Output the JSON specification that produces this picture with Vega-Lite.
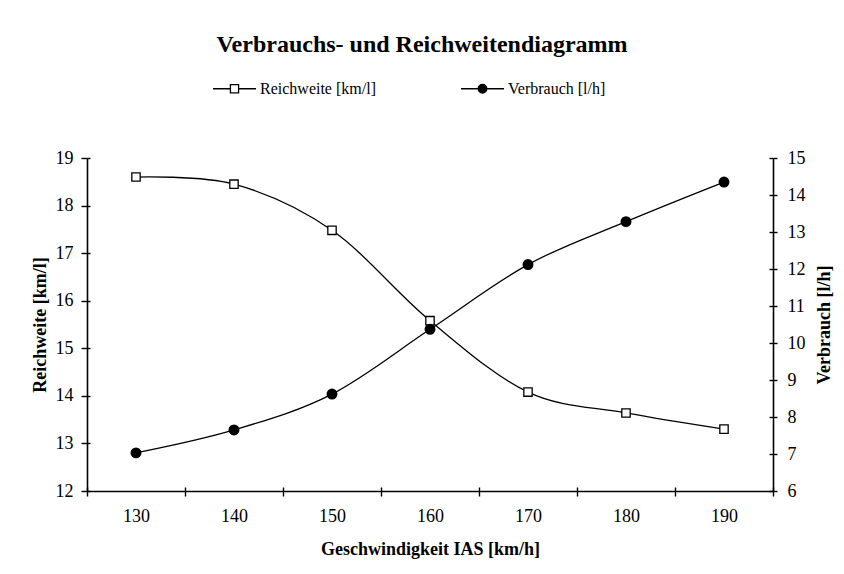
{
  "$schema": "https://vega.github.io/schema/vega-lite/v6.json",
  "width": 686,
  "height": 333,
  "padding": {"left": 31, "top": 33, "right": 2, "bottom": 10},
  "background": "white",
  "title": {
    "text": "Verbrauchs- und Reichweitendiagramm",
    "font": "Liberation Serif",
    "fontSize": 24,
    "fontWeight": "bold",
    "color": "black",
    "anchor": "middle",
    "frame": "group",
    "offset": 9,
    "dx": -8
  },
  "config": {
    "view": {"stroke": null},
    "axis": {
      "labelFont": "Liberation Serif",
      "labelFontSize": 18,
      "labelColor": "black",
      "titleFont": "Liberation Serif",
      "titleFontSize": 18,
      "titleFontWeight": "bold",
      "titleColor": "black",
      "domainColor": "black",
      "domainWidth": 1.6,
      "tickColor": "black",
      "tickWidth": 1.4,
      "grid": false
    }
  },
  "data": {
    "values": [
      {"speed": 130, "serie": "Reichweite [km/l]", "wert": 18.6},
      {"speed": 140, "serie": "Reichweite [km/l]", "wert": 18.45},
      {"speed": 150, "serie": "Reichweite [km/l]", "wert": 17.48},
      {"speed": 160, "serie": "Reichweite [km/l]", "wert": 15.58},
      {"speed": 170, "serie": "Reichweite [km/l]", "wert": 14.08},
      {"speed": 180, "serie": "Reichweite [km/l]", "wert": 13.64},
      {"speed": 190, "serie": "Reichweite [km/l]", "wert": 13.3},
      {"speed": 130, "serie": "Verbrauch [l/h]", "wert": 7.03},
      {"speed": 140, "serie": "Verbrauch [l/h]", "wert": 7.65},
      {"speed": 150, "serie": "Verbrauch [l/h]", "wert": 8.62},
      {"speed": 160, "serie": "Verbrauch [l/h]", "wert": 10.37},
      {"speed": 170, "serie": "Verbrauch [l/h]", "wert": 12.12},
      {"speed": 180, "serie": "Verbrauch [l/h]", "wert": 13.28},
      {"speed": 190, "serie": "Verbrauch [l/h]", "wert": 14.35}
    ]
  },
  "layer": [
    {
      "transform": [{"filter": "datum.serie === 'Reichweite [km/l]'"}],
      "mark": {"type": "line", "interpolate": "cardinal", "color": "black", "strokeWidth": 1.3},
      "encoding": {
        "x": {
          "field": "speed", "type": "quantitative",
          "scale": {"domain": [125, 195], "nice": false, "zero": false},
          "axis": {"orient": "bottom", "values": [130, 140, 150, 160, 170, 180, 190], "ticks": false, "tickSize": 0, "labelPadding": 16, "title": "Geschwindigkeit IAS [km/h]", "titlePadding": 15}
        },
        "y": {
          "field": "wert", "type": "quantitative",
          "scale": {"domain": [12, 19], "nice": false, "zero": false},
          "axis": {"orient": "left", "values": [12, 13, 14, 15, 16, 17, 18, 19], "tickSize": 6, "labelPadding": 8, "title": "Reichweite [km/l]", "titlePadding": 6}
        }
      }
    },
    {
      "transform": [{"filter": "datum.serie === 'Reichweite [km/l]'"}],
      "mark": {"type": "point", "shape": "square", "size": 70, "filled": true, "fill": "white", "stroke": "black", "strokeWidth": 1.3, "opacity": 1},
      "encoding": {
        "x": {
          "field": "speed", "type": "quantitative",
          "scale": {"domain": [125, 195], "nice": false, "zero": false},
          "axis": {"orient": "bottom", "values": [125, 135, 145, 155, 165, 175, 185, 195], "tickSize": 5, "labels": false, "domain": false, "title": null}
        },
        "y": {
          "field": "wert", "type": "quantitative",
          "scale": {"domain": [12, 19], "nice": false, "zero": false},
          "axis": {"orient": "left", "values": [12, 13, 14, 15, 16, 17, 18, 19], "tickSize": -3, "labels": false, "domain": false, "title": null}
        }
      }
    },
    {
      "transform": [{"filter": "datum.serie === 'Verbrauch [l/h]'"}],
      "mark": {"type": "line", "interpolate": "cardinal", "color": "black", "strokeWidth": 1.3},
      "encoding": {
        "x": {
          "field": "speed", "type": "quantitative",
          "scale": {"domain": [125, 195], "nice": false, "zero": false},
          "axis": {"orient": "bottom", "values": [125, 135, 145, 155, 165, 175, 185, 195], "tickSize": -4, "labels": false, "domain": false, "title": null}
        },
        "y": {
          "field": "wert", "type": "quantitative",
          "scale": {"domain": [6, 15], "nice": false, "zero": false},
          "axis": {"orient": "right", "values": [6, 7, 8, 9, 10, 11, 12, 13, 14, 15], "tickSize": 4, "labelPadding": 10, "title": "Verbrauch [l/h]", "titleAngle": 270, "titleBaseline": "top", "titlePadding": 10}
        }
      }
    },
    {
      "transform": [{"filter": "datum.serie === 'Verbrauch [l/h]'"}],
      "mark": {"type": "point", "shape": "circle", "size": 80, "filled": true, "fill": "black", "stroke": "black", "opacity": 1},
      "encoding": {
        "x": {"field": "speed", "type": "quantitative", "scale": {"domain": [125, 195], "nice": false, "zero": false}, "axis": null},
        "y": {
          "field": "wert", "type": "quantitative",
          "scale": {"domain": [6, 15], "nice": false, "zero": false},
          "axis": {"orient": "right", "values": [6, 7, 8, 9, 10, 11, 12, 13, 14, 15], "tickSize": -4, "labels": false, "domain": false, "title": null}
        }
      }
    },
    {
      "mark": {"type": "point", "filled": true, "opacity": 0, "strokeWidth": 1.3},
      "encoding": {
        "x": {"field": "speed", "type": "quantitative", "scale": {"domain": [125, 195], "nice": false, "zero": false}, "axis": null},
        "y": {"field": "wert", "type": "quantitative", "scale": {"domain": [0, 20]}, "axis": null},
        "shape": {
          "field": "serie", "type": "nominal",
          "scale": {"domain": ["Reichweite [km/l]", "Verbrauch [l/h]"], "range": ["M-1,0H-0.19M0.19,0H1M-0.19,-0.19H0.19V0.19H-0.19Z", "M-1,0H1M0.2,0A0.2,0.2 0 1 1 -0.2,0A0.2,0.2 0 1 1 0.2,0Z"]},
          "legend": {"title": null, "orient": "none", "legendX": 125, "legendY": -92, "direction": "horizontal", "symbolSize": 1849, "symbolStrokeColor": "black", "symbolStrokeWidth": 1.3, "symbolOpacity": 1, "labelFont": "Liberation Serif", "labelFontSize": 16, "labelColor": "black", "labelOffset": 3, "columnPadding": 82}
        },
        "fill": {
          "field": "serie", "type": "nominal",
          "scale": {"domain": ["Reichweite [km/l]", "Verbrauch [l/h]"], "range": ["white", "black"]},
          "legend": {"title": null, "orient": "none", "legendX": 125, "legendY": -92, "direction": "horizontal", "symbolSize": 1849, "symbolStrokeColor": "black", "symbolStrokeWidth": 1.3, "symbolOpacity": 1, "labelFont": "Liberation Serif", "labelFontSize": 16, "labelColor": "black", "labelOffset": 3, "columnPadding": 82}
        },
        "stroke": {
          "field": "serie", "type": "nominal",
          "scale": {"domain": ["Reichweite [km/l]", "Verbrauch [l/h]"], "range": ["black", "black"]},
          "legend": {"title": null, "orient": "none", "legendX": 125, "legendY": -92, "direction": "horizontal", "symbolSize": 1849, "symbolStrokeColor": "black", "symbolStrokeWidth": 1.3, "symbolOpacity": 1, "labelFont": "Liberation Serif", "labelFontSize": 16, "labelColor": "black", "labelOffset": 3, "columnPadding": 82}
        }
      }
    }
  ],
  "resolve": {"scale": {"y": "independent"}, "axis": {"x": "independent", "y": "independent"}}
}
